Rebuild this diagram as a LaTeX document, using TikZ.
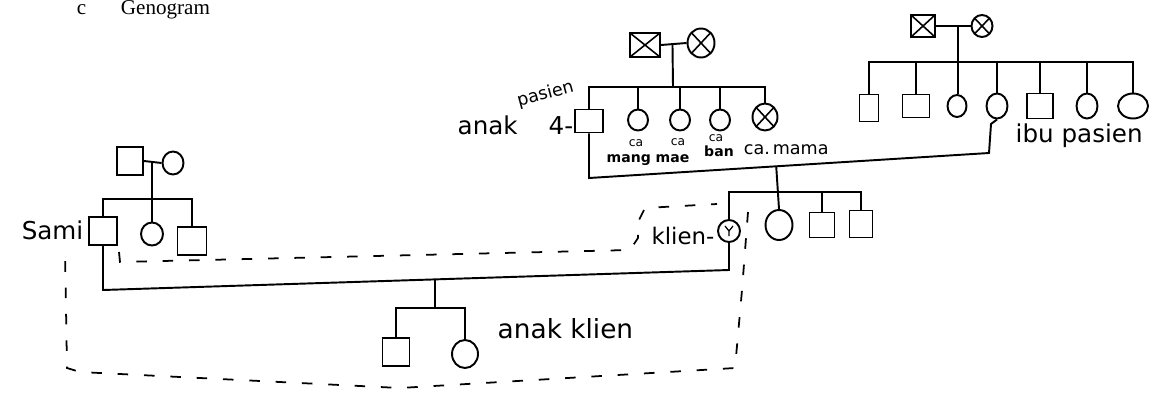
\documentclass[tikz,border=0pt]{standalone}
\usepackage{fontspec}
\setmainfont{Liberation Serif}
\newfontfamily\hand{DejaVu Sans}
\usetikzlibrary{calc,shapes.geometric}
\tikzset{
  sq/.style={draw, rectangle, inner sep=0pt},
  ci/.style={draw, ellipse, inner sep=0pt},
  dead/.style={path picture={\draw[line width=0.9pt]
      (path picture bounding box.north west) -- (path picture bounding box.south east)
      (path picture bounding box.north east) -- (path picture bounding box.south west);}},
  lbl/.style={font=\hand\fontsize{14}{14}\selectfont, inner sep=1pt},
  biglbl/.style={font=\hand\fontsize{15}{15}\selectfont, inner sep=1pt},
  small/.style={font=\hand\fontsize{7}{7}\selectfont, inner sep=0.5pt},
  mid/.style={font=\hand\fontsize{10}{10}\selectfont, inner sep=0.5pt},
  house/.style={line width=1pt, dash pattern=on 6pt off 9pt},
  scribble/.style={font=\hand\bfseries\fontsize{8}{8}\selectfont, inner sep=0.5pt}
}
\begin{document}
\begin{tikzpicture}[x=0.02cm, y=-0.02cm, line width=1.1pt]
\useasboundingbox (0,0) rectangle (1175,396);

% heading of the section
\node[font=\fontsize{12}{12}\selectfont, anchor=base west, inner sep=0] (hc) at (76,14) {c};
\node[font=\fontsize{12}{12}\selectfont, anchor=base west, inner sep=0] (hg) at (120,14) {Genogram};

% ---------- husband's family (left) ----------
\node[sq, minimum width=0.52cm, minimum height=0.56cm] (lgf) at (130,161) {};
\node[ci, minimum width=0.42cm, minimum height=0.46cm] (lgm) at (173,163) {};
\coordinate (lmar) at ($(lgf.east)!0.45!(lgm.west)$);
\coordinate (lsib) at (152,199);
\draw (lgf.east) -- (lgm.west);

\node[sq, minimum width=0.56cm, minimum height=0.56cm] (sami) at (103,231) {};
\node[ci, minimum width=0.44cm, minimum height=0.46cm] (lsis) at (152,234) {};
\node[sq, minimum width=0.58cm, minimum height=0.56cm] (lbro) at (192,241) {};
\draw (lmar) -- (lmar |- lsis.north);
\draw (sami.north) -- (sami.north |- lsib) -- (lbro.north |- lsib) -- (lbro.north);
\node[lbl, anchor=east] (samilbl) at (86,230) {Sami};

% ---------- father's family (middle) ----------
\node[sq, dead, minimum width=0.6cm, minimum height=0.48cm] (mgf) at (645,45) {};
\node[ci, dead, minimum width=0.54cm, minimum height=0.58cm] (mgm) at (701,43) {};
\draw (mgf.east) -- (mgm.west);
\coordinate (mmar) at ($(mgf.east)!0.45!(mgm.west)$);
\coordinate (msib) at (673,87);
\draw (mmar) -- (msib);

\node[sq, minimum width=0.56cm, minimum height=0.46cm] (ap) at (589,121) {};
\node[ci, minimum width=0.4cm, minimum height=0.42cm] (c2) at (638,120) {};
\node[ci, minimum width=0.4cm, minimum height=0.42cm] (c3) at (680,120) {};
\node[ci, minimum width=0.4cm, minimum height=0.42cm] (c4) at (720,120) {};
\node[ci, dead, minimum width=0.5cm, minimum height=0.54cm] (c5) at (765,117) {};
\draw (ap.north) -- (ap.north |- msib) -- (c5.north |- msib) -- (c5.north);
\draw (c2.north) -- (c2.north |- msib);
\draw (c3.north) -- (c3.north |- msib);
\draw (c4.north) -- (c4.north |- msib);

\node[lbl, anchor=base west] (anaklbl) at (455,134) {anak};
\node[mid, anchor=base west, rotate=15] (pasienlbl) at (517,107) {pasien};
\node[lbl, anchor=base west] (aplbl) at (546,134) {4-};
\node[small] (ca2) at (636,143) {ca};
\node[small] (ca3) at (678,142) {ca};
\node[small] (ca4) at (716,138) {ca};
\node[scribble] (sc1) at (648,160) {mang mae};
\node[scribble] (sc2) at (719,151) {ban};
\node[mid, anchor=west] (camama) at (742,150) {ca.\,mama};

% ---------- mother's family (right) ----------
\node[sq, dead, minimum width=0.48cm, minimum height=0.44cm] (rgf) at (923,26) {};
\node[ci, dead, minimum width=0.42cm, minimum height=0.44cm] (rgm) at (982,26) {};
\draw (rgf.east) -- (rgm.west);
\coordinate (rmar) at ($(rgf.east)!0.65!(rgm.west)$);
\coordinate (rsib) at (960,62);

\node[sq, minimum width=0.38cm, minimum height=0.54cm] (r1) at (869,108) {};
\node[sq, minimum width=0.54cm, minimum height=0.46cm] (r2) at (916,106) {};
\node[ci, minimum width=0.38cm, minimum height=0.44cm] (r3) at (957,106) {};
\node[ci, minimum width=0.42cm, minimum height=0.5cm] (ibu) at (997,106) {};
\node[sq, minimum width=0.52cm, minimum height=0.5cm] (r5) at (1040,106) {};
\node[ci, minimum width=0.42cm, minimum height=0.5cm] (r6) at (1087,106) {};
\node[ci, minimum width=0.6cm, minimum height=0.5cm] (r7) at (1133,106) {};
\draw (rmar) -- (rmar |- r3.north);
\draw (r1.north) -- (r1.north |- rsib) -- (r7.north |- rsib) -- (r7.north);
\draw (r2.north) -- (r2.north |- rsib);
\draw (ibu.north) -- (ibu.north |- rsib);
\draw (r5.north) -- (r5.north |- rsib);
\draw (r6.north) -- (r6.north |- rsib);
\node[lbl, anchor=base west] (ibulbl) at (1013,142) {ibu pasien};

% ---------- client's parents and siblings ----------
\coordinate (pL) at (589,178);
\coordinate (pR) at (989,153);
\coordinate (pT) at (991,124);
\draw (ap.south) -- (pL) -- (pR) -- (pT) -- (ibu.south);
\coordinate (pm) at ($(pL)!0.468!(pR)$);
\coordinate (ksib) at (777,192);

\node[ci, minimum width=0.44cm, minimum height=0.44cm] (klien) at (729,231) {};
\draw[line width=0.7pt] ($(klien.center)+(-4,-5)$) -- (klien.center) -- ($(klien.center)+(4,-5)$)
      (klien.center) -- ($(klien.center)+(0,5)$);
\node[ci, minimum width=0.54cm, minimum height=0.6cm] (ks1) at (779,225) {};
\node[sq, minimum width=0.5cm, minimum height=0.5cm] (ks2) at (822,225) {};
\node[sq, minimum width=0.46cm, minimum height=0.54cm] (ks3) at (861,224) {};
\draw (pm) -- (ks1.north);
\draw (klien.north) -- (klien.north |- ksib) -- (ks3.north |- ksib) -- (ks3.north);
\draw (ks2.north) -- (ks2.north |- ksib);
\node[lbl, anchor=east, font=\hand\fontsize{13}{13}\selectfont] (klienlbl) at ($(klien.west)+(0,5)$) {klien-};

% ---------- marriage of client and husband, their children ----------
\coordinate (mL) at (103,290);
\coordinate (mR) at (729,270);
\draw (sami.south) -- (mL) -- (mR) -- (klien.south);
\coordinate (cm) at ($(mL)!0.53!(mR)$);
\coordinate (cs) at (cm |- 0,308);
\draw (cm) -- (cs);
\node[sq, minimum width=0.54cm, minimum height=0.56cm] (son) at (396,352) {};
\node[ci, minimum width=0.52cm, minimum height=0.56cm] (dau) at (465,354) {};
\draw (son.north) -- (son.north |- cs) -- (dau.north |- cs) -- (dau.north);
\node[biglbl, anchor=base west] (anaklien) at (495,338) {anak klien};

% ---------- household boundary ----------
\draw[house] (119,252) -- (120,262) -- (630,250) -- (638,238) -- (638,222) -- (645,208) -- (717,204);
\draw[house] (748,212) -- (742,290) -- (735,368) -- (400,388) -- (80,372) -- (67,368) -- (65,250);
\end{tikzpicture}
\end{document}
